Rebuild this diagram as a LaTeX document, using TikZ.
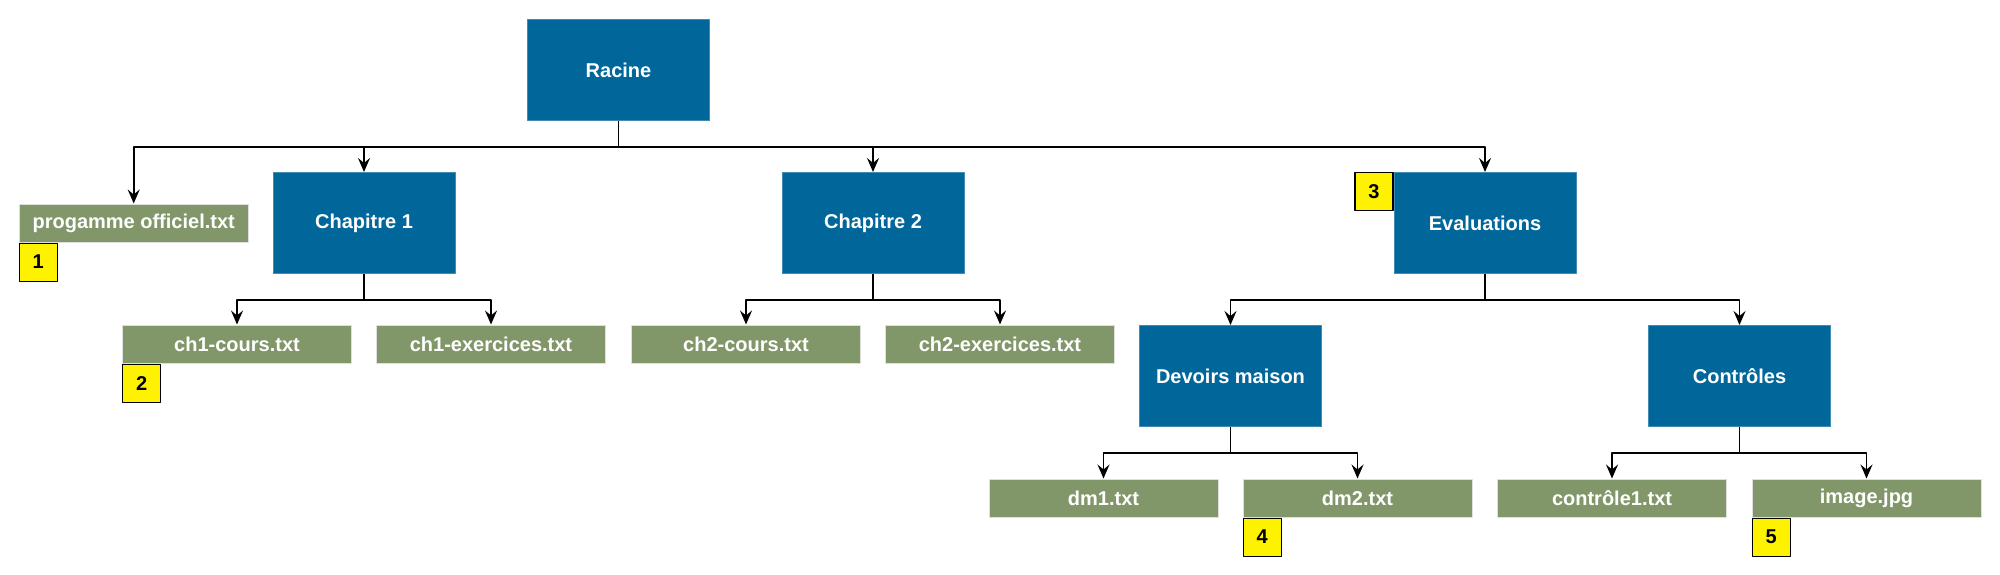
\documentclass[tikz,border=0pt]{standalone}
\usepackage{fontspec}
\setmainfont{Liberation Sans}
\usetikzlibrary{arrows.meta}
\definecolor{dossier}{RGB}{1,102,153}
\definecolor{fichier}{RGB}{130,151,105}
\begin{document}
\begin{tikzpicture}[x=0.5pt, y=0.5pt, font=\fontsize{10pt}{12pt}\selectfont\bfseries, line join=round, >={Stealth[length=7pt,width=6pt,inset=2.5pt]},
	dir/.style={fill=dossier, draw=dossier!75!white, line width=0.5pt, text=white, minimum width=91pt, minimum height=50.5pt, inner sep=0pt},
	file/.style={fill=fichier, draw=gray!25, line width=0.5pt, text=white, minimum width=114.5pt, minimum height=19pt, inner sep=0pt},
	num/.style={fill=yellow, draw=black, line width=0.6pt, minimum size=19pt, inner sep=0pt},
	link/.style={->, line width=0.8pt}]
	\def \drop{26};
	\useasboundingbox (0,0) rectangle (2000,-574);
	% dossiers
	\node[dir] (racine) at (618.5,-70) {Racine};
	\node[dir] (chap1) at (364,-223) {Chapitre 1};
	\node[dir] (chap2) at (873,-223) {Chapitre 2};
	\node[dir] (eval) at (1485,-223) {Evaluations};
	\node[dir] (dm) at (1230.5,-376) {Devoirs maison};
	\node[dir] (ctrl) at (1739.5,-376) {Contrôles};
	% fichiers
	\node[file] (prog) at (133.7,-223) {progamme officiel.txt};
	\node[file] (c1cours) at (237,-344) {ch1-cours.txt};
	\node[file] (c1exos) at (491,-344) {ch1-exercices.txt};
	\node[file] (c2cours) at (746,-344) {ch2-cours.txt};
	\node[file] (c2exos) at (1000,-344) {ch2-exercices.txt};
	\node[file] (dm1) at (1103.5,-498) {dm1.txt};
	\node[file] (dm2) at (1357.5,-498) {dm2.txt};
	\node[file] (ctrl1) at (1612,-498) {contrôle1.txt};
	\node[file] (img) at (1866.5,-498) {image.jpg};
	% liens
	\foreach \c in {prog,chap1,chap2,eval}
	\draw[link] (racine.south) -- ++(0,-\drop) -| (\c.north);
	\foreach \c in {c1cours,c1exos}
	\draw[link] (chap1.south) -- ++(0,-\drop) -| (\c.north);
	\foreach \c in {c2cours,c2exos}
	\draw[link] (chap2.south) -- ++(0,-\drop) -| (\c.north);
	\foreach \c in {dm,ctrl}
	\draw[link] (eval.south) -- ++(0,-\drop) -| (\c.north);
	\foreach \c in {dm1,dm2}
	\draw[link] (dm.south) -- ++(0,-\drop) -| (\c.north);
	\foreach \c in {ctrl1,img}
	\draw[link] (ctrl.south) -- ++(0,-\drop) -| (\c.north);
	% numeros
	\node[num, anchor=north west] (n1) at (prog.south west) {1};
	\node[num, anchor=north west] (n2) at (c1cours.south west) {2};
	\node[num, anchor=north east] (n3) at (eval.north west) {3};
	\node[num, anchor=north west] (n4) at (dm2.south west) {4};
	\node[num, anchor=north west] (n5) at (img.south west) {5};
\end{tikzpicture}
\end{document}
